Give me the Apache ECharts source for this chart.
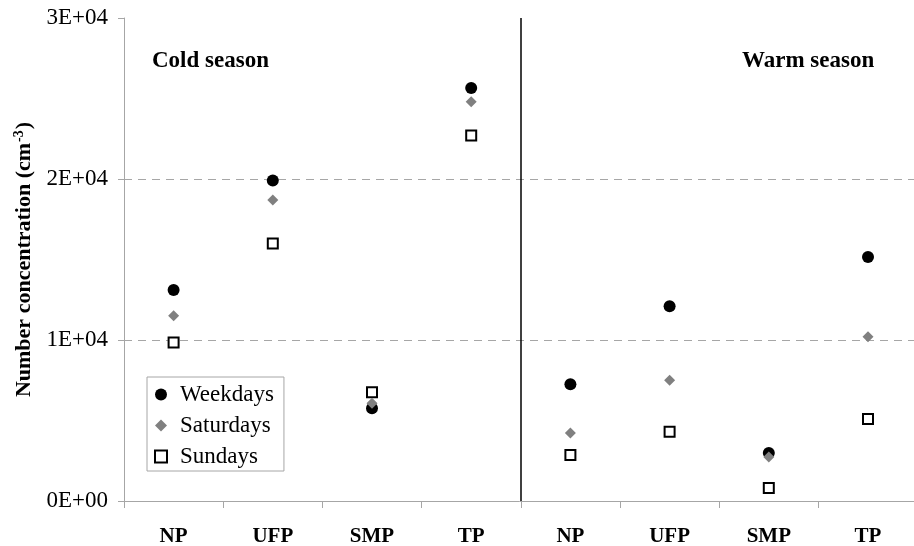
<!DOCTYPE html>
<html>
<head>
<meta charset="utf-8">
<script src="https://cdn.jsdelivr.net/npm/echarts@6/dist/echarts.min.js"></script>
<style>
html,body{margin:0;padding:0;background:#fff;}
#chart{width:914px;height:546px;}
</style>
</head>
<body>
<div id="chart"></div>
<script>
// ---- data ----
var categories = ['NP', 'UFP', 'SMP', 'TP', 'NP', 'UFP', 'SMP', 'TP'];
var seasons = ['Cold season', 'Warm season'];
var weekdays  = [13100, 19900, 5760, 25650, 7250, 12100, 2980, 15150];
var saturdays = [11500, 18700, 6070, 24800, 4230, 7500, 2730, 10200];
var sundays   = [9850, 16000, 6750, 22700, 2860, 4300, 800, 5100];
var yTicks = [0, 10000, 20000, 30000];
var dividerAt = 4; // boundary between seasons (in category units)

function sciLabel(v) {
  if (v === 0) return '0E+00';
  var e = Math.floor(Math.log10(Math.abs(v)));
  var m = Math.round(v / Math.pow(10, e));
  var es = (e < 10 ? '0' : '') + e;
  return m + 'E+' + es;
}

var serif = '"Liberation Serif", "Times New Roman", serif';
var chart = echarts.init(document.getElementById('chart'), null, {renderer: 'canvas'});

var option = {
  backgroundColor: '#fff',
  animation: false,
  grid: {left: 124, top: 18, width: 793.6, bottom: 45, containLabel: false, outerBoundsMode: 'none'},
  xAxis: [{
    type: 'category',
    data: categories,
    boundaryGap: true,
    axisLine: {lineStyle: {color: '#a6a6a6', width: 1}},
    axisTick: {show: true, inside: false, length: 7, interval: 0, lineStyle: {color: '#a6a6a6'}},
    axisLabel: {interval: 0, margin: 25, fontFamily: serif, fontWeight: 'bold', fontSize: 21, color: '#000'},
    splitLine: {show: false}
  }, {
    type: 'value',
    min: 0, max: 8,
    show: false
  }],
  yAxis: {
    type: 'value',
    min: yTicks[0], max: yTicks[yTicks.length - 1], interval: yTicks[1] - yTicks[0],
    axisLine: {show: true, lineStyle: {color: '#a6a6a6', width: 1}},
    axisTick: {show: true, inside: false, length: 6, lineStyle: {color: '#a6a6a6'}},
    axisLabel: {margin: 16, fontFamily: serif, fontSize: 23, color: '#000', formatter: sciLabel},
    splitLine: {show: true, showMinLine: false, showMaxLine: false, lineStyle: {color: '#a6a6a6', type: [8, 6], width: 1}},
    name: 'Number concentration (cm{sup|-3})',
    nameLocation: 'middle',
    nameGap: 80,
    nameRotate: 90,
    nameTextStyle: {
      fontFamily: serif, fontWeight: 'bold', fontSize: 22, color: '#000',
      rich: {sup: {fontFamily: serif, fontWeight: 'bold', fontSize: 14, color: '#000', verticalAlign: 'top', padding: [0, 1, 10, 1]}}
    }
  },
  legend: {
    orient: 'vertical',
    left: 147, top: 377,
    padding: [6, 10, 3, 7],
    itemGap: 8,
    itemWidth: 12, itemHeight: 12,
    borderColor: '#a6a6a6', borderWidth: 1,
    backgroundColor: '#fff',
    textStyle: {fontFamily: serif, fontSize: 23, color: '#000', padding: [0, 0, 0, 8]},
    data: ['Weekdays', 'Saturdays', 'Sundays']
  },
  series: [{
    name: 'Weekdays', type: 'scatter', data: weekdays,
    symbol: 'circle', symbolSize: 12,
    itemStyle: {color: '#000', opacity: 1}, z: 4
  }, {
    name: 'Saturdays', type: 'scatter', data: saturdays,
    symbol: 'diamond', symbolSize: 11,
    itemStyle: {color: '#808080', opacity: 1}, z: 5
  }, {
    name: 'Sundays', type: 'scatter', data: sundays,
    symbol: 'rect', symbolSize: 10,
    itemStyle: {color: '#fff', borderColor: '#000', borderWidth: 2, opacity: 1}, z: 3
  }, {
    name: 'divider', type: 'scatter', xAxisIndex: 1, data: [],
    silent: true,
    markLine: {
      silent: true, symbol: 'none', animation: false,
      label: {show: false},
      lineStyle: {color: '#000', width: 1.5, type: 'solid'},
      data: [{xAxis: dividerAt}]
    }
  }],
  graphic: [{
    type: 'text', left: 152, top: 50,
    style: {text: seasons[0], fontFamily: serif, fontWeight: 'bold', fontSize: 23, fill: '#000'}
  }, {
    type: 'text', left: 742, top: 50,
    style: {text: seasons[1], fontFamily: serif, fontWeight: 'bold', fontSize: 23, fill: '#000'}
  }]
};
chart.setOption(option);
</script>
</body>
</html>
